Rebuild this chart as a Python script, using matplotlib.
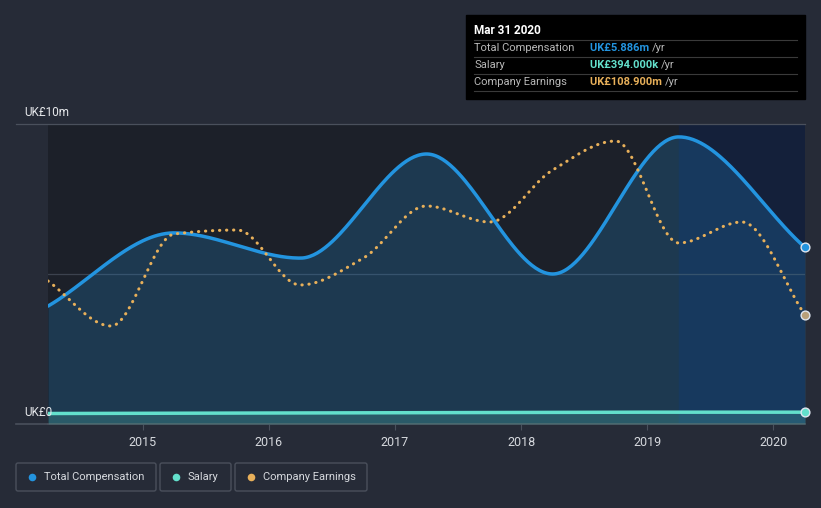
import matplotlib.pyplot as plt
import numpy as np
from matplotlib.patches import FancyBboxPatch

plt.rcParams['font.family'] = ['Roboto', 'DejaVu Sans']

# data (years as decimals, Mar 31 each year)
comp_years = [2014.25, 2015.25, 2016.25, 2017.25, 2018.25, 2019.25, 2020.25]
total_comp = [3.93, 6.37, 5.53, 9.0, 5.0, 9.57, 5.886]          # UK£m
salary = [0.35, 0.36, 0.37, 0.38, 0.39, 0.394, 0.394]            # UK£m

earn_years = [2014.25, 2014.75, 2015.25, 2015.75, 2016.25, 2016.75, 2017.25,
              2017.75, 2018.25, 2018.75, 2019.25, 2019.75, 2020.25]
earnings = [143, 98, 190, 194, 139, 166, 218, 202, 254, 283, 181, 202, 108.9]  # UK£m

year_ticks = [2015, 2016, 2017, 2018, 2019, 2020]

BG = '#262b37'
PLOT_BG = '#1c2029'
BLUE = '#2394df'
TEAL = '#63e0cc'
ORANGE = '#e8b05a'


def smooth(x, y, n=400):
    # monotone cubic (Fritsch-Carlson), only for drawing the curve
    x = np.asarray(x, float)
    y = np.asarray(y, float)
    h = np.diff(x)
    d = np.diff(y) / h
    m = np.zeros_like(y)
    m[0], m[-1] = d[0], d[-1]
    for i in range(1, len(y) - 1):
        if d[i - 1] * d[i] <= 0:
            m[i] = 0
        else:
            w1 = 2 * h[i] + h[i - 1]
            w2 = h[i] + 2 * h[i - 1]
            m[i] = (w1 + w2) / (w1 / d[i - 1] + w2 / d[i])
    xs = np.linspace(x[0], x[-1], n)
    idx = np.clip(np.searchsorted(x, xs) - 1, 0, len(x) - 2)
    t = (xs - x[idx]) / h[idx]
    h00 = 2 * t**3 - 3 * t**2 + 1
    h10 = t**3 - 2 * t**2 + t
    h01 = -2 * t**3 + 3 * t**2
    h11 = t**3 - t**2
    ys = h00 * y[idx] + h10 * h[idx] * m[idx] + h01 * y[idx + 1] + h11 * h[idx] * m[idx + 1]
    return xs, ys


fig = plt.figure(figsize=(8.21, 5.08), dpi=100, facecolor=BG)
ax = fig.add_axes([48 / 821, 84 / 508, 757 / 821, 300 / 508])
ax.set_facecolor(PLOT_BG)
ax.set_xlim(comp_years[0], comp_years[-1])
ax.set_ylim(0, 10)

# highlighted last year
ax.axvspan(2019.25, 2020.25, color='#14203a', zorder=0)

# grid line at the middle
ax.axhline(5, color='#3c424e', lw=0.9, zorder=1)

cx, cy = smooth(comp_years, total_comp)
ax.fill_between(cx, 0, cy, color=BLUE, alpha=0.22, lw=0, zorder=2)
ax.plot(cx, cy, color=BLUE, lw=2.5, zorder=5, solid_capstyle='round')

sx, sy = smooth(comp_years, salary)
ax.fill_between(sx, 0, sy, color=TEAL, alpha=0.2, lw=0, zorder=3)
ax.plot(sx, sy, color=TEAL, lw=2.5, zorder=5)

# earnings on its own (hidden) scale
ax2 = ax.twinx()
ax2.set_ylim(0, 300)
ax2.axis('off')
ex, ey = smooth(earn_years, earnings)
ax2.plot(ex, ey, color=ORANGE, lw=2.2, ls=(0, (0.1, 2.2)), dash_capstyle='round', zorder=5)

# end markers
ax.scatter([comp_years[-1]], [total_comp[-1]], s=40, color=BLUE, edgecolor='#dfe6f0', lw=1, zorder=8, clip_on=False)
ax.scatter([comp_years[-1]], [salary[-1]], s=40, color=TEAL, edgecolor='#dfe6f0', lw=1, zorder=8, clip_on=False)
ax2.scatter([earn_years[-1]], [earnings[-1]], s=40, color='#b8a07a', edgecolor='#dfe6f0', lw=1, zorder=8, clip_on=False)

for s in ['top', 'right', 'left']:
    ax.spines[s].set_visible(False)
ax.spines['bottom'].set_color('#4a505c')
ax.spines['bottom'].set_linewidth(1.2)
ax.set_yticks([])
ax.set_xticks(year_ticks)
ax.set_xticklabels([str(y) for y in year_ticks], color='#d6d9de', fontsize=9)
ax.tick_params(axis='x', length=4, color='#4a505c', pad=5)

# axis and top grid line reaching to the left edge
fig.add_artist(plt.Line2D([16 / 821, 48 / 821], [84 / 508, 84 / 508], color='#4a505c', lw=1.2))
fig.add_artist(plt.Line2D([16 / 821, 805 / 821], [384 / 508, 384 / 508], color='#4a505c', lw=0.9))

fig.text(24 / 821, 396 / 508, 'UK£10m', color='#e6e8eb', fontsize=8.5, va='center')
fig.text(24 / 821, 96 / 508, 'UK£0', color='#e6e8eb', fontsize=8.5, va='center')

# tooltip
fig.add_artist(plt.Rectangle((466 / 821, 409 / 508), 339 / 821, 84 / 508, transform=fig.transFigure,
                             color='black', zorder=10))
fig.text(474 / 821, 477 / 508, 'Mar 31 2020', color='white', fontsize=8.5, fontweight='bold',
         va='center', zorder=11)
rows = [('Total Compensation', 'UK£5.886m', BLUE),
        ('Salary', 'UK£394.000k', TEAL),
        ('Company Earnings', 'UK£108.900m', ORANGE)]
for i, (lab, val, col) in enumerate(rows):
    yc = (508 - 48 - i * 17) / 508
    fig.add_artist(plt.Line2D([474 / 821, 797 / 821], [yc + 8.5 / 508] * 2, color='#3a3a3a', lw=0.8, zorder=11))
    fig.text(474 / 821, yc, lab, color='#b8b8b8', fontsize=8, va='center', zorder=11)
    t = fig.text(590 / 821, yc, val + ' ', color=col, fontsize=8, fontweight='bold', va='center', zorder=11)
    fig.canvas.draw()
    bb = t.get_window_extent()
    fig.text(bb.x1 / 821, yc, '/yr', color='#b8b8b8', fontsize=8, va='center', zorder=11)
fig.add_artist(plt.Line2D([474 / 821, 797 / 821], [(508 - 48 - 2 * 17 - 8.5) / 508] * 2,
                          color='#3a3a3a', lw=0.8, zorder=11))

# legend boxes
ax_leg = fig.add_axes([0, 0, 1, 1], facecolor='none', zorder=12)
ax_leg.set_xlim(0, 821)
ax_leg.set_ylim(0, 508)
ax_leg.axis('off')
legend_items = [('Total Compensation', BLUE, 16, 156), ('Salary', TEAL, 160, 231),
                ('Company Earnings', ORANGE, 235, 367)]
for lab, col, x0, x1 in legend_items:
    box = FancyBboxPatch((x0, 17), x1 - x0, 28, boxstyle='round,pad=0,rounding_size=2',
                         facecolor='none', edgecolor='#4a505c', lw=1)
    ax_leg.add_patch(box)
    ax_leg.scatter([x0 + 16], [31], s=30, color=col, lw=0)
    ax_leg.text(x0 + 28, 31, lab, color='#d6d9de', fontsize=8, va='center')

fig.savefig('out.png', dpi=100, facecolor=BG)
